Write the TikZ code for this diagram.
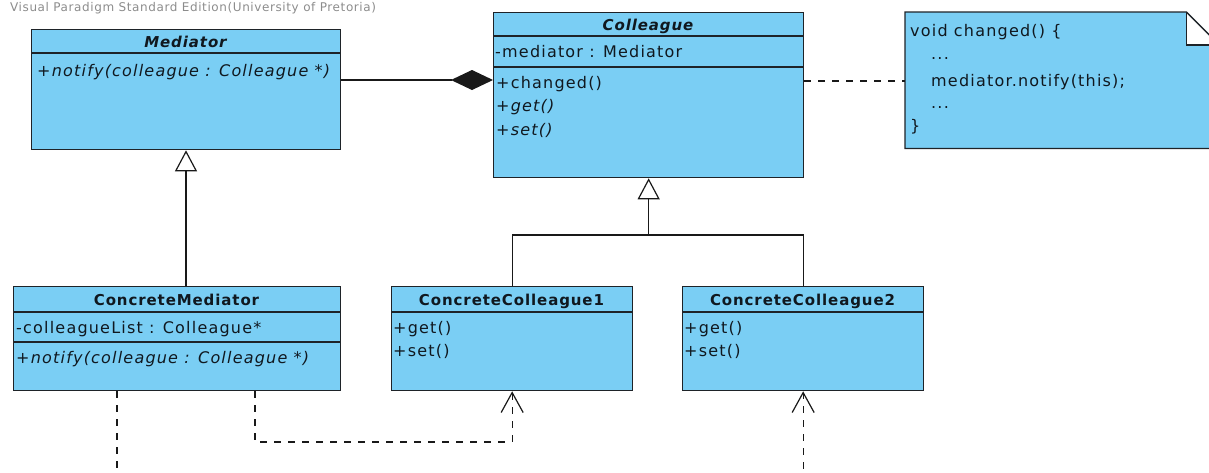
\documentclass[tikz,border=0pt]{standalone}
\usepackage{fontspec}
\setmainfont{DejaVu Sans}
\newfontfamily\rowfont{DejaVu Sans}[LetterSpace=7.5]
\newfontfamily\titlefont{DejaVu Sans}[LetterSpace=6]
\newfontfamily\markfont{DejaVu Sans}[LetterSpace=5]
\usetikzlibrary{arrows.meta,calc}
\definecolor{umlblue}{HTML}{7ACEF4}
\definecolor{umlline}{HTML}{1E2328}
\definecolor{umltext}{HTML}{10181F}

\begin{document}
\begin{tikzpicture}[x=1pt,y=-1pt,
  umlbox/.style={draw=umlline, line width=1.3pt, fill=umlblue, rectangle,
    inner sep=0pt, anchor=north west},
  divider/.style={draw=umlline, line width=1.3pt},
  rowtext/.style={inner sep=0pt, anchor=base west, text=umltext,
    font=\rowfont\fontsize{16}{19}\selectfont},
  optext/.style={rowtext, font=\rowfont\fontsize{16}{19}\selectfont\itshape},
  abstitle/.style={inner sep=0pt, anchor=base, text=umltext,
    font=\titlefont\fontsize{15}{18}\selectfont\bfseries\itshape},
  title/.style={inner sep=0pt, anchor=base, text=umltext,
    font=\titlefont\fontsize{15}{18}\selectfont\bfseries},
  conn/.style={draw=black!90, line width=1.2pt},
  depline/.style={conn, dash pattern=on 7pt off 7pt},
  inherit/.style={conn, -{Triangle[open, length=21pt, width=22pt, line width=1.2pt]}},
  depend/.style={depline, -{Straight Barb[length=20pt, width=22pt, line width=1.2pt]}},
  compose/.style={conn, -{Diamond[length=42pt, width=20pt]}}
]
\useasboundingbox (0,0) rectangle (1209,472);
\clip (0,0) rectangle (1209,472);

% tool watermark
\node[inner sep=0pt, anchor=base west, text=black!45,
  font=\markfont\fontsize{12}{14}\selectfont] (wm) at (10,11)
  {Visual Paradigm Standard Edition(University of Pretoria)};

% ---- Mediator (abstract) ----
\node[umlbox, minimum width=309pt, minimum height=120pt] (med) at (31,29) {};
\draw[divider] (med.west |- 0,53) -- (med.east |- 0,53);
\node[abstitle] (medT) at (185.5,47) {Mediator};
\node[optext] (medO) at (37,76) {+notify(colleague : Colleague *)};

% ---- Colleague (abstract) ----
\node[umlbox, minimum width=310pt, minimum height=165pt] (col) at (493,12) {};
\draw[divider] (col.west |- 0,36) -- (col.east |- 0,36);
\draw[divider] (col.west |- 0,67) -- (col.east |- 0,67);
\node[abstitle] (colT) at (648,30) {Colleague};
\node[rowtext] (colA) at (495,57) {-mediator : Mediator};
\node[rowtext] (colO1) at (496,88) {+changed()};
\node[optext] (colO2) at (496,111.5) {+get()};
\node[optext] (colO3) at (496,135) {+set()};

% ---- note attached to Colleague ----
\node[inner sep=0pt, minimum width=314pt, minimum height=136pt,
  anchor=north west] (note) at (905,12) {};
\coordinate (fold) at ($(note.north east)+(-33,0)$);
\fill[umlblue] (note.north west) -- (fold) -- ($(note.north east)+(0,33)$)
  -- (note.south east) -- (note.south west) -- cycle;
\fill[white] (fold) -- ($(fold)+(0,33)$) -- ($(note.north east)+(0,33)$) -- cycle;
\draw[divider, line join=miter] (note.north west) -- (fold)
  -- ($(note.north east)+(0,33)$) -- (note.south east) -- (note.south west) -- cycle;
\draw[divider] (fold) -- ($(fold)+(0,33)$) -- ($(note.north east)+(0,33)$);
\node[rowtext] (n1) at (910,36) {void changed() \{};
\node[rowtext] (n2) at (931,59) {...};
\node[rowtext] (n3) at (931,86) {mediator.notify(this);};
\node[rowtext] (n4) at (931,108) {...};
\node[rowtext] (n5) at (910,131) {\}};

% ---- ConcreteMediator ----
\node[umlbox, minimum width=327pt, minimum height=104pt] (cm) at (13,286) {};
\draw[divider] (cm.west |- 0,312) -- (cm.east |- 0,312);
\draw[divider] (cm.west |- 0,342) -- (cm.east |- 0,342);
\node[title] (cmT) at (176.5,305) {ConcreteMediator};
\node[rowtext] (cmA) at (16,333) {-colleagueList : Colleague*};
\node[optext] (cmO) at (16,363) {+notify(colleague : Colleague *)};

% ---- ConcreteColleague1 ----
\node[umlbox, minimum width=241pt, minimum height=104pt] (cc1) at (391,286) {};
\draw[divider] (cc1.west |- 0,312) -- (cc1.east |- 0,312);
\node[title] (cc1T) at (511.5,305) {ConcreteColleague1};
\node[rowtext] (cc1O1) at (393,333) {+get()};
\node[rowtext] (cc1O2) at (393,356.5) {+set()};

% ---- ConcreteColleague2 ----
\node[umlbox, minimum width=241pt, minimum height=104pt] (cc2) at (682,286) {};
\draw[divider] (cc2.west |- 0,312) -- (cc2.east |- 0,312);
\node[title] (cc2T) at (802.5,305) {ConcreteColleague2};
\node[rowtext] (cc2O1) at (684,333) {+get()};
\node[rowtext] (cc2O2) at (684,356.5) {+set()};

% ---- connectors ----
% composition: Colleague holds its Mediator
\draw[compose] (med.east |- 0,80) -- (col.west |- 0,80);
% note anchor
\draw[depline] (col.east |- 0,81) -- (note.west |- 0,81);
% generalisations
\draw[inherit] (cm.north -| 186,0) -- (med.south -| 186,0);
\coordinate (joint) at (col.south |- 0,235);
\draw[conn] (cc2.north) |- (joint);
\draw[inherit] (cc1.north) |- (joint) -- (col.south);
% dependencies of ConcreteMediator on the concrete colleagues
\coordinate (bend1) at (cc1.south |- 0,442);
\coordinate (bend2) at (cc2.south |- 0,500);
\draw[depend] (cm.south -| 255,0) |- (bend1) -- (cc1.south);
\draw[depend] (cm.south -| 117,0) |- (bend2) -- (cc2.south);
\end{tikzpicture}
\end{document}
